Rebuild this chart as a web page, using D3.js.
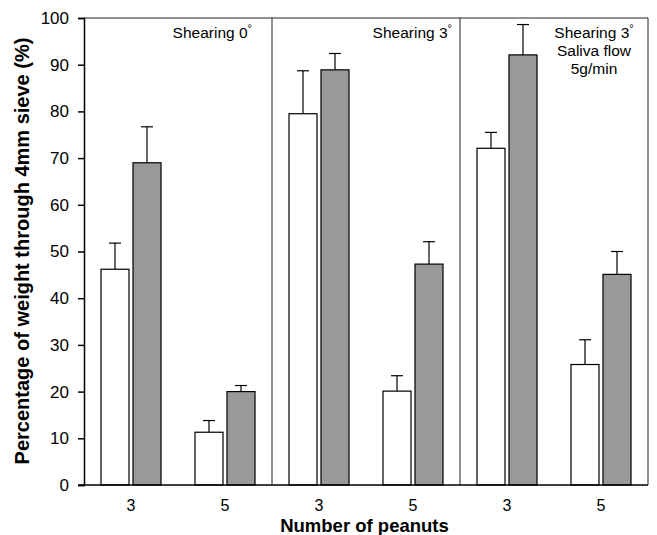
<!DOCTYPE html>
<html>
<head>
<meta charset="utf-8">
<script src="https://cdn.jsdelivr.net/npm/d3@7"></script>
<style>
  body { margin: 0; background: #fff; }
  text { font-family: "Liberation Sans", Arial, sans-serif; }
</style>
</head>
<body>
<script>
// data
const panels = ["Shearing 0°", "Shearing 3°", "Shearing 3° Saliva flow 5g/min"];
const peanuts = ["3", "5"];
const whiteValues = [46.2, 11.3, 79.5, 20.1, 72.1, 25.8];
const whiteErr = [5.6, 2.5, 9.2, 3.3, 3.4, 5.3];
const grayValues = [69.0, 20.0, 88.9, 47.3, 92.1, 45.1];
const grayErr = [7.7, 1.3, 3.5, 4.8, 6.5, 4.9];
const yTicks = [0, 10, 20, 30, 40, 50, 60, 70, 80, 90, 100];

const width = 657, height = 535;
const plotLeft = 84, plotRight = 648, plotTop = 18, plotBottom = 485;

const svg = d3.create("svg").attr("width", width).attr("height", height);

const x0 = d3.scaleBand().domain(panels).range([plotLeft, plotRight]);
const x1 = d3.scalePoint().domain(peanuts).range([0, x0.bandwidth()]).padding(0.5);
const x2 = d3.scaleBand().domain(["white", "gray"]).range([-30, 30]).paddingInner(0.125);
const y = d3.scaleLinear().domain([0, 100]).range([plotBottom, plotTop]);

// build rows
let rows = [];
panels.forEach((p, i) => {
  peanuts.forEach((n, j) => {
    let k = i * 2 + j;
    rows.push({ panel: p, n: n, series: "white", v: whiteValues[k], e: whiteErr[k] });
    rows.push({ panel: p, n: n, series: "gray", v: grayValues[k], e: grayErr[k] });
  });
});

// panel dividers and frame
svg.append("line").attr("x1", plotLeft).attr("x2", plotRight).attr("y1", plotTop).attr("y2", plotTop)
  .style("stroke", "#222").style("stroke-width", 1);
svg.append("line").attr("x1", plotRight).attr("x2", plotRight).attr("y1", plotTop).attr("y2", plotBottom)
  .style("stroke", "#222").style("stroke-width", 1);
panels.slice(1).forEach(p => {
  svg.append("line").attr("x1", x0(p)).attr("x2", x0(p)).attr("y1", plotTop).attr("y2", plotBottom)
    .style("stroke", "#222").style("stroke-width", 1);
});

// error bars (upper only)
const eb = svg.append("g");
rows.forEach(d => {
  let cx = x0(d.panel) + x1(d.n) + x2(d.series) + x2.bandwidth() / 2;
  eb.append("line").attr("x1", cx).attr("x2", cx).attr("y1", y(d.v)).attr("y2", y(d.v + d.e))
    .style("stroke", "#000").style("stroke-width", 1.2);
  eb.append("line").attr("x1", cx - 6).attr("x2", cx + 6).attr("y1", y(d.v + d.e)).attr("y2", y(d.v + d.e))
    .style("stroke", "#000").style("stroke-width", 1.2);
});

// bars
svg.append("g").selectAll("rect").data(rows).join("rect")
  .attr("x", d => x0(d.panel) + x1(d.n) + x2(d.series))
  .attr("y", d => y(d.v))
  .attr("width", x2.bandwidth())
  .attr("height", d => y(0) - y(d.v))
  .style("fill", d => d.series == "white" ? "#fff" : "#999")
  .style("stroke", "#000")
  .style("stroke-width", 1.2);

// y axis
const yAxis = svg.append("g").attr("transform", `translate(${plotLeft},0)`)
  .call(d3.axisLeft(y).tickValues(yTicks).tickSize(6).tickPadding(9));
yAxis.selectAll("text").style("font-size", "17px").style("fill", "#000");
yAxis.selectAll("line, path").style("stroke", "#000").style("stroke-width", 1.5);

// x axis (line and labels only)
svg.append("line").attr("x1", plotLeft - 6).attr("x2", plotRight).attr("y1", plotBottom).attr("y2", plotBottom)
  .style("stroke", "#000").style("stroke-width", 1.5);
panels.forEach(p => {
  peanuts.forEach(n => {
    svg.append("text").attr("x", x0(p) + x1(n)).attr("y", 511)
      .attr("text-anchor", "middle").style("font-size", "16px").text(n);
  });
});

// panel labels
function degreeText(sel, str) {
  let parts = str.split("°");
  sel.append("tspan").text(parts[0]);
  if (parts.length > 1) {
    sel.append("tspan").attr("dy", -6).style("font-size", "11px").text("°");
    if (parts[1]) sel.append("tspan").attr("dy", 6).text(parts[1]);
  }
}
let t0 = svg.append("text").attr("x", x0(panels[0]) + x0.bandwidth() - 20).attr("y", 38)
  .attr("text-anchor", "end").style("font-size", "15.5px");
degreeText(t0, "Shearing 0°");
let t1 = svg.append("text").attr("x", x0(panels[1]) + x0.bandwidth() - 8).attr("y", 38)
  .attr("text-anchor", "end").style("font-size", "15.5px");
degreeText(t1, "Shearing 3°");
let lines3 = ["Shearing 3°", "Saliva flow", "5g/min"];
lines3.forEach((s, i) => {
  let t = svg.append("text").attr("x", x0(panels[2]) + 134).attr("y", 38 + i * 18)
    .attr("text-anchor", "middle").style("font-size", "15.5px");
  degreeText(t, s);
});

// axis titles
svg.append("text").attr("transform", `translate(29,${(39 + 463) / 2}) rotate(-90)`)
  .attr("text-anchor", "middle").style("font-size", "20px").style("font-weight", "bold")
  .text("Percentage of weight through 4mm sieve (%)");
svg.append("text").attr("x", (277 + 452) / 2).attr("y", 531.5)
  .attr("text-anchor", "middle").style("font-size", "18.5px").style("font-weight", "bold")
  .text("Number of peanuts");

d3.select("body").append(() => svg.node());
</script>
</body>
</html>
